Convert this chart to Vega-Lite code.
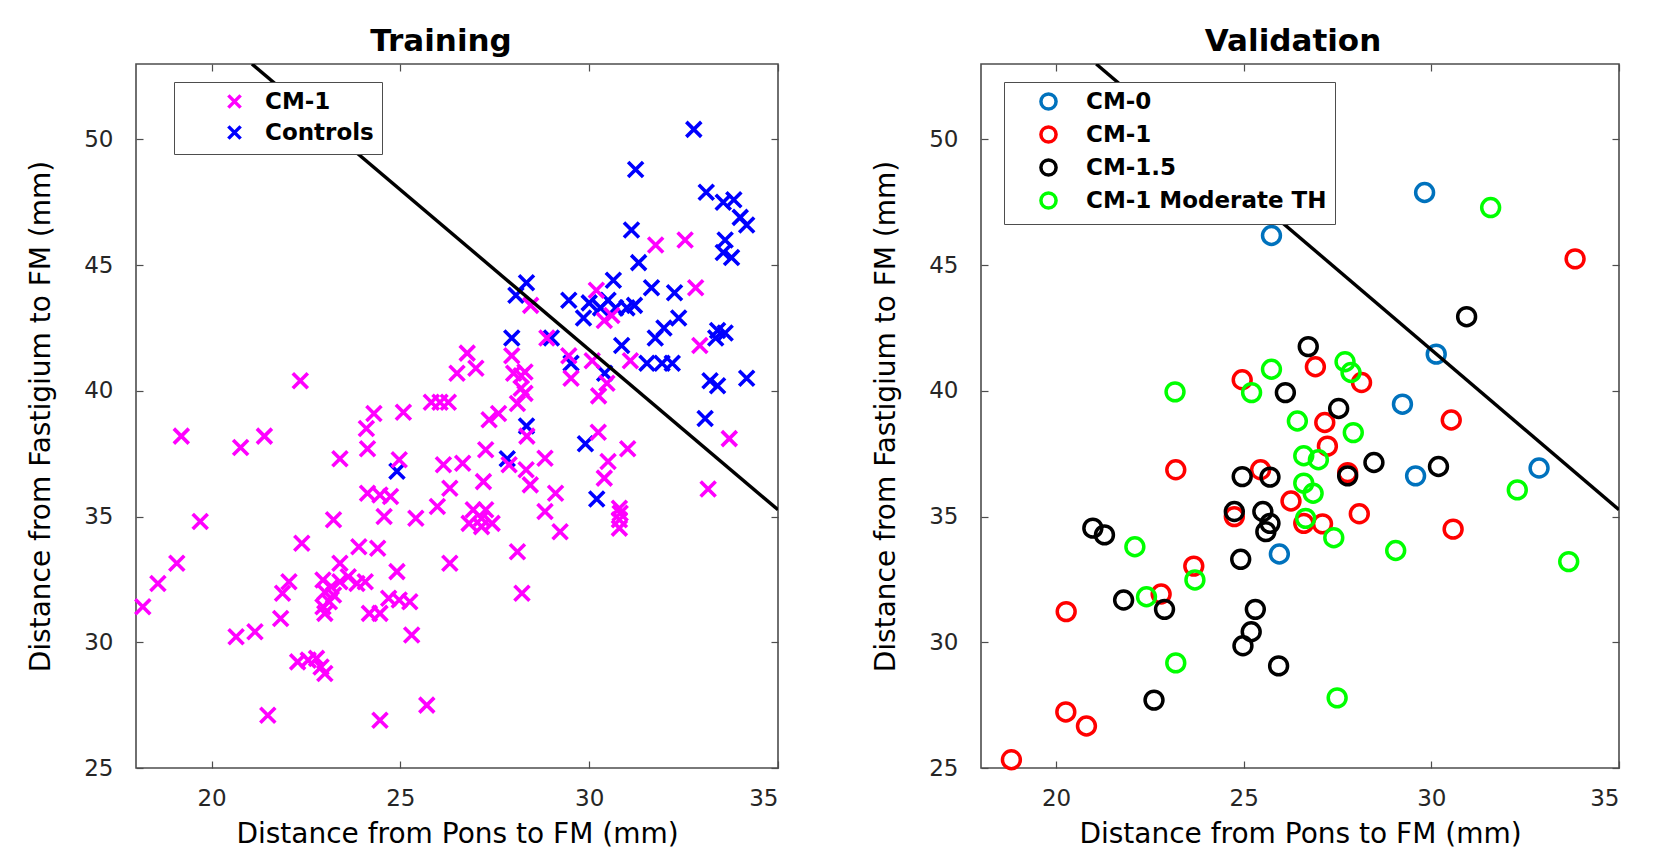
{
  "$schema": "https://vega.github.io/schema/vega-lite/v6.json",
  "background": "white",
  "padding": {"left": 26, "top": 25, "right": 5, "bottom": 5},
  "spacing": 203,
  "bounds": "flush",
  "config": {
    "font": "DejaVu Sans",
    "view": {"stroke": "#4d4d4d", "strokeWidth": 1.6},
    "axis": {"grid": false, "domain": false, "labelFont": "DejaVu Sans", "labelFontSize": 23, "labelColor": "#262626", "tickColor": "#4d4d4d", "tickSize": -7, "tickWidth": 1.2, "titleFont": "DejaVu Sans", "titleFontSize": 28, "titleFontWeight": "normal", "titleColor": "#000000"},
    "axisX": {"labelPadding": 26, "titlePadding": 10},
    "axisY": {"labelPadding": 30, "titlePadding": 28},
    "title": {"font": "DejaVu Sans", "fontSize": 31, "fontWeight": "bold", "offset": 5, "color": "#000000"}
  },
  "resolve": {"scale": {"color": "independent"}, "legend": {"color": "independent"}},
  "datasets": {
    "boundary": [{"x": 21.07, "y": 53}, {"x": 35, "y": 35.27}],
    "training": [
      {"x": 32.77, "y": 50.4, "group": "Controls"}, {"x": 31.23, "y": 48.8, "group": "Controls"}, {"x": 33.1, "y": 47.9, "group": "Controls"}, {"x": 33.55, "y": 47.5, "group": "Controls"}, {"x": 33.83, "y": 47.6, "group": "Controls"}, {"x": 34.0, "y": 46.9, "group": "Controls"}, {"x": 34.17, "y": 46.6, "group": "Controls"}, {"x": 31.12, "y": 46.4, "group": "Controls"}, {"x": 33.6, "y": 46.0, "group": "Controls"}, {"x": 33.55, "y": 45.5, "group": "Controls"}, {"x": 33.77, "y": 45.3, "group": "Controls"}, {"x": 31.31, "y": 45.1, "group": "Controls"}, {"x": 28.34, "y": 44.3, "group": "Controls"}, {"x": 28.06, "y": 43.8, "group": "Controls"}, {"x": 30.64, "y": 44.4, "group": "Controls"}, {"x": 29.46, "y": 43.6, "group": "Controls"}, {"x": 30.0, "y": 43.5, "group": "Controls"}, {"x": 30.3, "y": 43.3, "group": "Controls"}, {"x": 30.5, "y": 43.6, "group": "Controls"}, {"x": 30.7, "y": 43.3, "group": "Controls"}, {"x": 31.0, "y": 43.3, "group": "Controls"}, {"x": 31.2, "y": 43.4, "group": "Controls"}, {"x": 29.85, "y": 42.9, "group": "Controls"}, {"x": 31.65, "y": 44.1, "group": "Controls"}, {"x": 32.26, "y": 43.9, "group": "Controls"}, {"x": 32.37, "y": 42.9, "group": "Controls"}, {"x": 31.98, "y": 42.5, "group": "Controls"}, {"x": 31.75, "y": 42.1, "group": "Controls"}, {"x": 29.0, "y": 42.1, "group": "Controls"}, {"x": 27.95, "y": 42.1, "group": "Controls"}, {"x": 30.86, "y": 41.8, "group": "Controls"}, {"x": 31.53, "y": 41.1, "group": "Controls"}, {"x": 31.93, "y": 41.1, "group": "Controls"}, {"x": 32.2, "y": 41.1, "group": "Controls"}, {"x": 29.52, "y": 41.1, "group": "Controls"}, {"x": 30.41, "y": 40.7, "group": "Controls"}, {"x": 33.4, "y": 42.4, "group": "Controls"}, {"x": 33.6, "y": 42.3, "group": "Controls"}, {"x": 33.35, "y": 42.1, "group": "Controls"}, {"x": 34.17, "y": 40.5, "group": "Controls"}, {"x": 33.2, "y": 40.4, "group": "Controls"}, {"x": 33.4, "y": 40.2, "group": "Controls"}, {"x": 33.07, "y": 38.9, "group": "Controls"}, {"x": 28.34, "y": 38.6, "group": "Controls"}, {"x": 29.9, "y": 37.9, "group": "Controls"}, {"x": 27.83, "y": 37.3, "group": "Controls"}, {"x": 24.91, "y": 36.8, "group": "Controls"}, {"x": 30.2, "y": 35.7, "group": "Controls"},
      {"x": 31.76, "y": 45.8, "group": "CM-1"}, {"x": 32.54, "y": 46.0, "group": "CM-1"}, {"x": 32.82, "y": 44.1, "group": "CM-1"}, {"x": 30.19, "y": 44.0, "group": "CM-1"}, {"x": 30.4, "y": 42.8, "group": "CM-1"}, {"x": 30.6, "y": 43.0, "group": "CM-1"}, {"x": 28.45, "y": 43.4, "group": "CM-1"}, {"x": 28.88, "y": 42.1, "group": "CM-1"}, {"x": 29.46, "y": 41.4, "group": "CM-1"}, {"x": 30.08, "y": 41.2, "group": "CM-1"}, {"x": 31.09, "y": 41.2, "group": "CM-1"}, {"x": 29.52, "y": 40.5, "group": "CM-1"}, {"x": 30.25, "y": 39.8, "group": "CM-1"}, {"x": 30.47, "y": 40.3, "group": "CM-1"}, {"x": 32.93, "y": 41.8, "group": "CM-1"},
      {"x": 26.77, "y": 41.5, "group": "CM-1"}, {"x": 27.0, "y": 40.9, "group": "CM-1"}, {"x": 26.5, "y": 40.7, "group": "CM-1"}, {"x": 27.95, "y": 41.4, "group": "CM-1"}, {"x": 28.0, "y": 40.7, "group": "CM-1"}, {"x": 28.2, "y": 40.6, "group": "CM-1"}, {"x": 28.3, "y": 40.75, "group": "CM-1"}, {"x": 28.2, "y": 40.1, "group": "CM-1"}, {"x": 28.3, "y": 39.9, "group": "CM-1"}, {"x": 22.35, "y": 40.4, "group": "CM-1"},
      {"x": 25.82, "y": 39.55, "group": "CM-1"}, {"x": 26.05, "y": 39.55, "group": "CM-1"}, {"x": 26.27, "y": 39.55, "group": "CM-1"}, {"x": 24.3, "y": 39.1, "group": "CM-1"}, {"x": 25.08, "y": 39.15, "group": "CM-1"}, {"x": 24.1, "y": 38.5, "group": "CM-1"}, {"x": 27.35, "y": 38.85, "group": "CM-1"}, {"x": 27.6, "y": 39.1, "group": "CM-1"}, {"x": 28.1, "y": 39.5, "group": "CM-1"}, {"x": 28.35, "y": 38.2, "group": "CM-1"}, {"x": 30.24, "y": 38.35, "group": "CM-1"}, {"x": 31.02, "y": 37.7, "group": "CM-1"}, {"x": 33.71, "y": 38.1, "group": "CM-1"}, {"x": 33.15, "y": 36.1, "group": "CM-1"},
      {"x": 19.2, "y": 38.2, "group": "CM-1"}, {"x": 20.77, "y": 37.75, "group": "CM-1"}, {"x": 21.4, "y": 38.2, "group": "CM-1"}, {"x": 24.13, "y": 37.7, "group": "CM-1"}, {"x": 23.4, "y": 37.3, "group": "CM-1"}, {"x": 24.97, "y": 37.26, "group": "CM-1"}, {"x": 26.14, "y": 37.06, "group": "CM-1"}, {"x": 26.65, "y": 37.12, "group": "CM-1"}, {"x": 27.26, "y": 37.66, "group": "CM-1"}, {"x": 27.88, "y": 37.06, "group": "CM-1"}, {"x": 28.33, "y": 36.86, "group": "CM-1"}, {"x": 28.83, "y": 37.32, "group": "CM-1"}, {"x": 28.44, "y": 36.26, "group": "CM-1"}, {"x": 29.11, "y": 35.93, "group": "CM-1"}, {"x": 30.5, "y": 37.19, "group": "CM-1"}, {"x": 30.4, "y": 36.53, "group": "CM-1"}, {"x": 30.8, "y": 35.33, "group": "CM-1"}, {"x": 30.82, "y": 35.13, "group": "CM-1"}, {"x": 30.8, "y": 34.87, "group": "CM-1"}, {"x": 30.8, "y": 34.54, "group": "CM-1"}, {"x": 27.2, "y": 36.39, "group": "CM-1"}, {"x": 26.31, "y": 36.13, "group": "CM-1"}, {"x": 25.98, "y": 35.4, "group": "CM-1"}, {"x": 24.13, "y": 35.93, "group": "CM-1"}, {"x": 24.46, "y": 35.86, "group": "CM-1"}, {"x": 24.74, "y": 35.8, "group": "CM-1"}, {"x": 24.57, "y": 35.0, "group": "CM-1"}, {"x": 25.41, "y": 34.93, "group": "CM-1"},
      {"x": 26.93, "y": 35.27, "group": "CM-1"}, {"x": 27.26, "y": 35.27, "group": "CM-1"}, {"x": 27.15, "y": 34.93, "group": "CM-1"}, {"x": 26.82, "y": 34.73, "group": "CM-1"}, {"x": 27.15, "y": 34.6, "group": "CM-1"}, {"x": 27.43, "y": 34.73, "group": "CM-1"}, {"x": 28.83, "y": 35.2, "group": "CM-1"}, {"x": 29.23, "y": 34.4, "group": "CM-1"}, {"x": 23.23, "y": 34.87, "group": "CM-1"}, {"x": 19.7, "y": 34.8, "group": "CM-1"}, {"x": 22.39, "y": 33.94, "group": "CM-1"}, {"x": 23.9, "y": 33.8, "group": "CM-1"}, {"x": 24.4, "y": 33.74, "group": "CM-1"}, {"x": 23.4, "y": 33.14, "group": "CM-1"},
      {"x": 22.95, "y": 32.48, "group": "CM-1"}, {"x": 23.17, "y": 32.21, "group": "CM-1"}, {"x": 23.4, "y": 32.41, "group": "CM-1"}, {"x": 23.62, "y": 32.61, "group": "CM-1"}, {"x": 23.85, "y": 32.34, "group": "CM-1"}, {"x": 24.07, "y": 32.41, "group": "CM-1"}, {"x": 23.0, "y": 32.0, "group": "CM-1"}, {"x": 23.23, "y": 31.88, "group": "CM-1"}, {"x": 23.12, "y": 31.61, "group": "CM-1"}, {"x": 22.95, "y": 31.41, "group": "CM-1"}, {"x": 23.0, "y": 31.15, "group": "CM-1"}, {"x": 22.05, "y": 32.41, "group": "CM-1"}, {"x": 21.88, "y": 31.95, "group": "CM-1"}, {"x": 21.83, "y": 30.95, "group": "CM-1"}, {"x": 19.08, "y": 33.14, "group": "CM-1"}, {"x": 18.58, "y": 32.34, "group": "CM-1"}, {"x": 18.18, "y": 31.41, "group": "CM-1"}, {"x": 24.91, "y": 32.81, "group": "CM-1"}, {"x": 24.18, "y": 31.15, "group": "CM-1"}, {"x": 24.46, "y": 31.15, "group": "CM-1"}, {"x": 24.69, "y": 31.75, "group": "CM-1"}, {"x": 24.97, "y": 31.68, "group": "CM-1"}, {"x": 25.25, "y": 31.61, "group": "CM-1"}, {"x": 25.3, "y": 30.29, "group": "CM-1"}, {"x": 26.31, "y": 33.14, "group": "CM-1"}, {"x": 28.1, "y": 33.6, "group": "CM-1"}, {"x": 28.22, "y": 31.95, "group": "CM-1"}, {"x": 20.65, "y": 30.22, "group": "CM-1"}, {"x": 21.15, "y": 30.42, "group": "CM-1"}, {"x": 22.28, "y": 29.22, "group": "CM-1"}, {"x": 22.56, "y": 29.29, "group": "CM-1"}, {"x": 22.78, "y": 29.36, "group": "CM-1"}, {"x": 22.9, "y": 29.02, "group": "CM-1"}, {"x": 23.0, "y": 28.76, "group": "CM-1"}, {"x": 21.49, "y": 27.1, "group": "CM-1"}, {"x": 24.46, "y": 26.9, "group": "CM-1"}, {"x": 25.7, "y": 27.5, "group": "CM-1"}
    ],
    "validation": [
      {"x": 29.82, "y": 47.89, "group": "CM-0"}, {"x": 25.74, "y": 46.18, "group": "CM-0"}, {"x": 30.13, "y": 41.46, "group": "CM-0"}, {"x": 29.23, "y": 39.47, "group": "CM-0"}, {"x": 29.58, "y": 36.62, "group": "CM-0"}, {"x": 32.87, "y": 36.93, "group": "CM-0"}, {"x": 25.95, "y": 33.51, "group": "CM-0"},
      {"x": 33.83, "y": 45.25, "group": "CM-1"}, {"x": 26.91, "y": 40.96, "group": "CM-1"}, {"x": 24.96, "y": 40.44, "group": "CM-1"}, {"x": 28.14, "y": 40.33, "group": "CM-1"}, {"x": 30.53, "y": 38.84, "group": "CM-1"}, {"x": 27.16, "y": 38.74, "group": "CM-1"}, {"x": 27.23, "y": 37.8, "group": "CM-1"}, {"x": 23.19, "y": 36.86, "group": "CM-1"}, {"x": 25.45, "y": 36.86, "group": "CM-1"}, {"x": 27.77, "y": 36.75, "group": "CM-1"}, {"x": 26.26, "y": 35.62, "group": "CM-1"}, {"x": 24.75, "y": 35.0, "group": "CM-1"}, {"x": 26.6, "y": 34.73, "group": "CM-1"}, {"x": 27.1, "y": 34.71, "group": "CM-1"}, {"x": 28.08, "y": 35.11, "group": "CM-1"}, {"x": 30.58, "y": 34.5, "group": "CM-1"}, {"x": 23.67, "y": 33.03, "group": "CM-1"}, {"x": 22.8, "y": 31.92, "group": "CM-1"}, {"x": 20.27, "y": 31.22, "group": "CM-1"}, {"x": 20.26, "y": 27.23, "group": "CM-1"}, {"x": 20.81, "y": 26.67, "group": "CM-1"}, {"x": 18.81, "y": 25.33, "group": "CM-1"},
      {"x": 30.94, "y": 42.95, "group": "CM-1.5"}, {"x": 26.72, "y": 41.76, "group": "CM-1.5"}, {"x": 26.11, "y": 39.93, "group": "CM-1.5"}, {"x": 27.53, "y": 39.3, "group": "CM-1.5"}, {"x": 24.96, "y": 36.59, "group": "CM-1.5"}, {"x": 25.7, "y": 36.57, "group": "CM-1.5"}, {"x": 27.77, "y": 36.62, "group": "CM-1.5"}, {"x": 28.47, "y": 37.15, "group": "CM-1.5"}, {"x": 30.19, "y": 36.99, "group": "CM-1.5"}, {"x": 24.75, "y": 35.2, "group": "CM-1.5"}, {"x": 25.51, "y": 35.2, "group": "CM-1.5"}, {"x": 25.7, "y": 34.73, "group": "CM-1.5"}, {"x": 25.59, "y": 34.4, "group": "CM-1.5"}, {"x": 20.98, "y": 34.54, "group": "CM-1.5"}, {"x": 21.29, "y": 34.27, "group": "CM-1.5"}, {"x": 24.92, "y": 33.3, "group": "CM-1.5"}, {"x": 21.8, "y": 31.68, "group": "CM-1.5"}, {"x": 22.89, "y": 31.31, "group": "CM-1.5"}, {"x": 25.31, "y": 31.31, "group": "CM-1.5"}, {"x": 25.2, "y": 30.42, "group": "CM-1.5"}, {"x": 24.98, "y": 29.86, "group": "CM-1.5"}, {"x": 25.93, "y": 29.06, "group": "CM-1.5"}, {"x": 22.61, "y": 27.7, "group": "CM-1.5"},
      {"x": 31.58, "y": 47.29, "group": "CM-1 Moderate TH"}, {"x": 27.7, "y": 41.16, "group": "CM-1 Moderate TH"}, {"x": 27.86, "y": 40.73, "group": "CM-1 Moderate TH"}, {"x": 25.74, "y": 40.86, "group": "CM-1 Moderate TH"}, {"x": 25.21, "y": 39.93, "group": "CM-1 Moderate TH"}, {"x": 23.17, "y": 39.96, "group": "CM-1 Moderate TH"}, {"x": 26.43, "y": 38.8, "group": "CM-1 Moderate TH"}, {"x": 27.92, "y": 38.34, "group": "CM-1 Moderate TH"}, {"x": 26.6, "y": 37.42, "group": "CM-1 Moderate TH"}, {"x": 26.99, "y": 37.26, "group": "CM-1 Moderate TH"}, {"x": 32.29, "y": 36.06, "group": "CM-1 Moderate TH"}, {"x": 26.6, "y": 36.33, "group": "CM-1 Moderate TH"}, {"x": 26.85, "y": 35.93, "group": "CM-1 Moderate TH"}, {"x": 26.65, "y": 34.93, "group": "CM-1 Moderate TH"}, {"x": 27.4, "y": 34.16, "group": "CM-1 Moderate TH"}, {"x": 29.05, "y": 33.65, "group": "CM-1 Moderate TH"}, {"x": 33.66, "y": 33.21, "group": "CM-1 Moderate TH"}, {"x": 22.1, "y": 33.8, "group": "CM-1 Moderate TH"}, {"x": 23.7, "y": 32.48, "group": "CM-1 Moderate TH"}, {"x": 22.41, "y": 31.81, "group": "CM-1 Moderate TH"}, {"x": 23.19, "y": 29.18, "group": "CM-1 Moderate TH"}, {"x": 27.49, "y": 27.79, "group": "CM-1 Moderate TH"}
    ]
  },
  "hconcat": [
    {
      "title": {"text": "Training", "dx": -16},
      "width": 642,
      "height": 704,
      "resolve": {"axis": {"x": "independent", "y": "independent"}},
      "layer": [
        {
          "data": {"name": "training"},
          "mark": {"type": "point", "shape": "M-1,-1L1,1M1,-1L-1,1", "filled": false, "strokeWidth": 3.6, "size": 225, "opacity": 1},
          "encoding": {
            "x": {"field": "x", "type": "quantitative", "scale": {"domain": [18, 35], "nice": false, "zero": false}, "axis": {"orient": "bottom", "values": [20, 25, 30, 35], "title": "Distance from Pons to FM (mm)"}},
            "y": {"field": "y", "type": "quantitative", "scale": {"domain": [25, 53], "nice": false, "zero": false}, "axis": {"orient": "left", "values": [25, 30, 35, 40, 45, 50], "title": "Distance from Fastigium to FM (mm)"}},
            "color": {"field": "group", "type": "nominal", "scale": {"domain": ["CM-1", "Controls"], "range": ["#FF00FF", "#0000FF"]},
              "legend": {"orient": "none", "legendX": 38, "legendY": 18, "title": null, "symbolType": "M-1,-1L1,1M1,-1L-1,1", "symbolStrokeWidth": 3.5, "symbolSize": 150, "labelFont": "DejaVu Sans", "labelFontSize": 23, "labelFontWeight": "bold", "labelColor": "#000000", "labelLimit": 500, "strokeColor": "#4d4d4d", "fillColor": "white", "padding": 8, "rowPadding": 4, "symbolOffset": 41, "labelOffset": 19}}
          }
        },
        {
          "data": {"name": "boundary"},
          "mark": {"type": "line", "color": "black", "strokeWidth": 3.4, "clip": true},
          "encoding": {
            "x": {"field": "x", "type": "quantitative", "axis": {"orient": "top", "values": [20, 25, 30, 35], "labels": false, "title": null}},
            "y": {"field": "y", "type": "quantitative", "axis": {"orient": "right", "values": [25, 30, 35, 40, 45, 50], "labels": false, "title": null}}
          }
        }
      ]
    },
    {
      "title": {"text": "Validation", "dx": -7},
      "width": 638,
      "height": 704,
      "resolve": {"axis": {"x": "independent", "y": "independent"}},
      "layer": [
        {
          "data": {"name": "validation"},
          "mark": {"type": "point", "shape": "circle", "filled": false, "strokeWidth": 3.5, "size": 320, "opacity": 1},
          "encoding": {
            "x": {"field": "x", "type": "quantitative", "scale": {"domain": [18, 35], "nice": false, "zero": false}, "axis": {"orient": "bottom", "values": [20, 25, 30, 35], "title": "Distance from Pons to FM (mm)"}},
            "y": {"field": "y", "type": "quantitative", "scale": {"domain": [25, 53], "nice": false, "zero": false}, "axis": {"orient": "left", "values": [25, 30, 35, 40, 45, 50], "title": "Distance from Fastigium to FM (mm)"}},
            "color": {"field": "group", "type": "nominal", "scale": {"domain": ["CM-0", "CM-1", "CM-1.5", "CM-1 Moderate TH"], "range": ["#0072BD", "#FF0000", "#000000", "#00FF00"]},
              "legend": {"orient": "none", "legendX": 23, "legendY": 18, "title": null, "symbolType": "circle", "symbolStrokeWidth": 3.5, "symbolSize": 230, "labelFont": "DejaVu Sans", "labelFontSize": 23, "labelFontWeight": "bold", "labelColor": "#000000", "labelLimit": 500, "strokeColor": "#4d4d4d", "fillColor": "white", "padding": 8, "rowPadding": 2, "symbolOffset": 25, "labelOffset": 26}}
          }
        },
        {
          "data": {"name": "boundary"},
          "mark": {"type": "line", "color": "black", "strokeWidth": 3.4, "clip": true},
          "encoding": {
            "x": {"field": "x", "type": "quantitative", "axis": {"orient": "top", "values": [20, 25, 30, 35], "labels": false, "title": null}},
            "y": {"field": "y", "type": "quantitative", "axis": {"orient": "right", "values": [25, 30, 35, 40, 45, 50], "labels": false, "title": null}}
          }
        }
      ]
    }
  ]
}
